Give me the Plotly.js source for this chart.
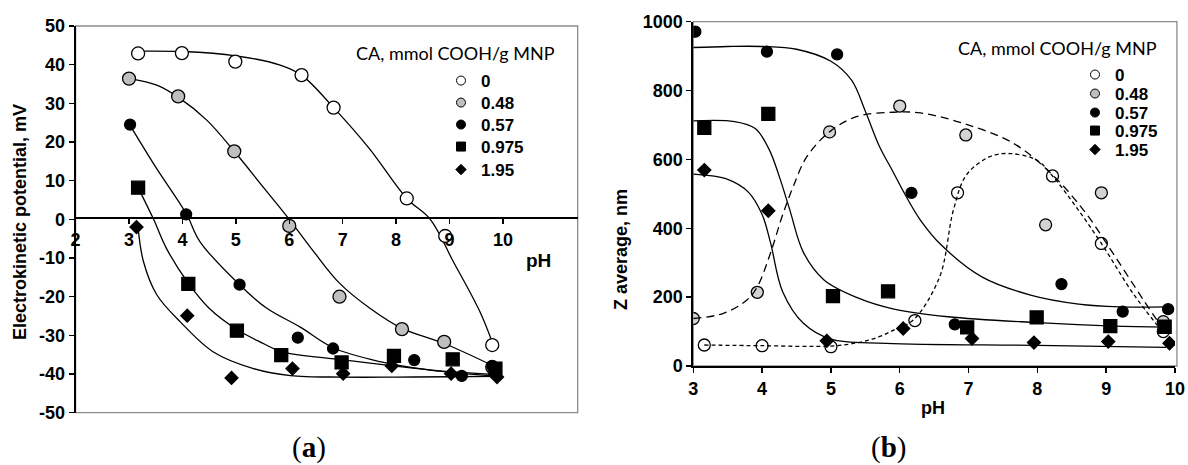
<!DOCTYPE html>
<html>
<head>
<meta charset="utf-8">
<script src="https://cdn.plot.ly/plotly-3.0.1.min.js"></script>
<style>
  html, body { margin: 0; padding: 0; background: #ffffff; }
  #chart { width: 1188px; height: 465px; }
</style>
</head>
<body>
<div id="chart"></div>
<script>
// Citric acid loading, mmol COOH per g of magnetic nanoparticles
const seriesNames = ['0', '0.48', '0.57', '0.975', '1.95'];

// ---------- (a) electrokinetic potential (mV) vs pH ----------
const zetaPH_0    = [3.17, 3.99, 4.99, 6.23, 6.83, 8.20, 8.92, 9.80];
const zeta_0      = [42.9, 43.0, 40.8, 37.3, 28.9, 5.4, -4.3, -32.5];
const zetaPH_048  = [3.00, 3.92, 4.97, 6.00, 6.94, 8.11, 8.90, 9.80];
const zeta_048    = [36.4, 31.8, 17.6, -1.7, -20.0, -28.4, -31.7, -38.2];
const zetaPH_057  = [3.02, 4.07, 5.07, 6.16, 6.82, 8.34, 9.23, 9.80];
const zeta_057    = [24.5, 1.3, -16.9, -30.6, -33.4, -36.4, -40.5, -37.9];
const zetaPH_0975 = [3.17, 4.11, 5.02, 5.85, 6.98, 7.96, 9.06, 9.86];
const zeta_0975   = [8.2, -16.7, -28.8, -35.1, -37.0, -35.3, -36.2, -38.6];
const zetaPH_195  = [3.14, 4.09, 4.92, 6.06, 7.01, 7.92, 9.03, 9.89];
const zeta_195    = [-2.0, -24.9, -41.0, -38.6, -39.9, -37.9, -39.9, -40.8];

// hand-fitted trend lines for (a)
const zetaFitPH_0    = [3.1, 4.0, 5.0, 5.83, 6.23, 6.83, 7.5, 8.2, 8.64, 9.07, 9.57, 9.82];
const zetaFit_0      = [43.5, 43.4, 42.3, 39.9, 37.3, 28.9, 18.3, 5.4, 0, -10.9, -23.9, -32.5];
const zetaFitPH_048  = [3.02, 3.52, 3.92, 4.46, 4.97, 5.52, 6.0, 6.45, 6.94, 7.51, 8.11, 8.9, 9.82];
const zetaFit_048    = [36.4, 34.7, 31.6, 25.6, 17.6, 8.2, 0, -8.2, -16.5, -23.0, -28.2, -32.1, -37.9];
const zetaFitPH_057  = [3.02, 3.5, 4.07, 4.33, 5.07, 5.58, 6.2, 6.82, 7.7, 8.64, 9.82];
const zetaFit_057    = [24.3, 13.5, 1.5, -5.8, -16.9, -23.0, -27.8, -33.2, -36.8, -39.0, -40.5];
const zetaFitPH_0975 = [3.17, 3.46, 3.7, 4.11, 4.5, 5.02, 5.5, 5.85, 6.98, 7.95, 9.01, 9.82];
const zetaFit_0975   = [8.2, 0, -7.5, -16.5, -23.0, -28.5, -32.0, -34.2, -36.3, -37.9, -39.4, -40.1];
const zetaFitPH_195  = [3.17, 3.27, 3.52, 3.96, 4.58, 5.33, 6.02, 7.0, 8.0, 9.0, 9.85];
const zetaFit_195    = [-2.2, -10.9, -19.5, -26.5, -34.3, -38.6, -40.4, -40.8, -40.8, -40.7, -40.6];

// ---------- (b) Z average (nm) vs pH ----------
const sizePH_0    = [3.16, 4.00, 5.00, 6.22, 6.84, 8.22, 8.93, 9.83];
const size_0      = [61, 59, 56, 132, 503, 552, 356, 100];
const sizePH_048  = [3.00, 3.93, 4.98, 6.00, 6.96, 8.12, 8.93, 9.83];
const size_048    = [138, 214, 680, 755, 671, 410, 503, 129];
const sizePH_057  = [3.03, 4.07, 5.09, 6.17, 6.80, 8.35, 9.24, 9.90];
const size_057    = [971, 913, 905, 503, 121, 238, 158, 165];
const sizePH_0975 = [3.16, 4.09, 5.03, 5.83, 6.98, 7.99, 9.06, 9.85];
const size_0975   = [692, 732, 203, 217, 112, 141, 116, 114];
const sizePH_195  = [3.16, 4.09, 4.94, 6.05, 7.05, 7.95, 9.03, 9.92];
const size_195    = [569, 451, 73, 109, 80, 68, 71, 66];

// hand-fitted trend lines for (b)
const sizeFitPH_0    = [3.16, 4.0, 5.0, 5.4, 5.7, 5.95, 6.2, 6.58, 6.78, 6.97, 7.31, 7.6, 7.99, 8.22, 8.57, 8.93, 9.39, 9.78];
const sizeFit_0      = [61, 59, 58, 68, 85, 108, 134, 259, 453, 555, 608, 617, 598, 552, 460, 356, 211, 109];
const sizeFitPH_048  = [3.0, 3.44, 3.78, 3.93, 4.12, 4.3, 4.45, 4.65, 4.98, 5.37, 5.9, 6.3, 6.92, 7.65, 8.22, 8.7, 9.1, 9.54, 9.8];
const sizeFit_048    = [138, 153, 192, 230, 327, 440, 520, 608, 680, 724, 737, 735, 705, 647, 555, 445, 327, 192, 115];
const sizeFitPH_057  = [3.0, 3.5, 4.0, 4.5, 5.0, 5.3, 5.5, 5.7, 5.9, 6.1, 6.3, 6.6, 7.2, 7.9, 8.6, 9.2, 9.87];
const sizeFit_057    = [925, 928, 928, 920, 885, 830, 740, 640, 565, 490, 424, 352, 258, 206, 180, 172, 172];
const sizeFitPH_0975 = [3.0, 3.6, 3.9, 4.1, 4.25, 4.4, 4.6, 4.9, 5.4, 5.9, 6.7, 8.0, 9.1, 9.87];
const sizeFit_0975   = [712, 710, 690, 630, 550, 455, 330, 250, 197, 166, 143, 126, 116, 113];
const sizeFitPH_195  = [3.0, 3.5, 3.8, 4.0, 4.12, 4.3, 4.6, 5.0, 5.8, 8.0, 9.87];
const sizeFit_195    = [557, 542, 505, 440, 360, 215, 124, 78, 66, 60, 54];

// axis tick labels (plain hyphen minus, as in the original figure)
const zetaTicks   = [-50, -40, -30, -20, -10, 0, 10, 20, 30, 40, 50];
const zetaTickTxt = ['-50', '-40', '-30', '-20', '-10', '0', '10', '20', '30', '40', '50'];
const phTicksA    = [2, 3, 4, 5, 6, 7, 8, 9, 10];
const phTicksB    = [3, 4, 5, 6, 7, 8, 9, 10];
const sizeTicks   = [0, 200, 400, 600, 800, 1000];

// ---------- styling ----------
const W = 1188, H = 465;
const px = v => v / W;
const py = v => 1 - v / H;

const markerStyleA = [
  { symbol: 'circle',  size: 13, color: '#ffffff' },
  { symbol: 'circle',  size: 13, color: '#bfbfbf' },
  { symbol: 'circle',  size: 11, color: '#000000' },
  { symbol: 'square',  size: 13, color: '#000000' },
  { symbol: 'diamond', size: 10, color: '#000000' }
];
const markerStyleB = [
  { symbol: 'circle',  size: 12, color: '#ffffff' },
  { symbol: 'circle',  size: 12, color: '#d3d3d3' },
  { symbol: 'circle',  size: 11, color: '#000000' },
  { symbol: 'square',  size: 13, color: '#000000' },
  { symbol: 'diamond', size: 10, color: '#000000' }
];
const legendStyle = [
  { symbol: 'circle',  color: '#ffffff' },
  { symbol: 'circle',  color: '#bfbfbf' },
  { symbol: 'circle',  color: '#000000' },
  { symbol: 'square',  color: '#000000' },
  { symbol: 'diamond', color: '#000000' }
];
const dashB = ['4px,3px', '8px,5px', 'solid', 'solid', 'solid'];

// key rows (pixel centre lines) and left edges of the two keys
const keyRowsA = [81, 103, 125, 147, 170];
const keyRowsB = [75, 94, 113, 131, 150];
const keyLeftA = 441, keyLeftB = 1075;

const pointsA = [[zetaPH_0, zeta_0], [zetaPH_048, zeta_048], [zetaPH_057, zeta_057], [zetaPH_0975, zeta_0975], [zetaPH_195, zeta_195]];
const fitsA = [[zetaFitPH_0, zetaFit_0], [zetaFitPH_048, zetaFit_048], [zetaFitPH_057, zetaFit_057], [zetaFitPH_0975, zetaFit_0975], [zetaFitPH_195, zetaFit_195]];
const pointsB = [[sizePH_0, size_0], [sizePH_048, size_048], [sizePH_057, size_057], [sizePH_0975, size_0975], [sizePH_195, size_195]];
const fitsB = [[sizeFitPH_0, sizeFit_0], [sizeFitPH_048, sizeFit_048], [sizeFitPH_057, sizeFit_057], [sizeFitPH_0975, sizeFit_0975], [sizeFitPH_195, sizeFit_195]];

const traces = [];

// (a) trend lines under the markers
fitsA.forEach(([x, y]) => traces.push({
  x, y, xaxis: 'x', yaxis: 'y', mode: 'lines', showlegend: false, hoverinfo: 'skip',
  line: { color: '#000', width: 1.3, shape: 'spline', smoothing: 1 }
}));
pointsA.forEach(([x, y], i) => traces.push({
  x, y, xaxis: 'x', yaxis: 'y', mode: 'markers', name: seriesNames[i], showlegend: false,
  marker: { symbol: markerStyleA[i].symbol, size: markerStyleA[i].size, color: markerStyleA[i].color,
            line: { color: '#000', width: 1.3 } }
}));

// (b) markers, then trend lines drawn over them
pointsB.forEach(([x, y], i) => traces.push({
  x, y, xaxis: 'x2', yaxis: 'y2', mode: 'markers', name: seriesNames[i], showlegend: false,
  marker: { symbol: markerStyleB[i].symbol, size: markerStyleB[i].size, color: markerStyleB[i].color,
            line: { color: '#000', width: 1.3 } }
}));
fitsB.forEach(([x, y], i) => traces.push({
  x, y, xaxis: 'x2', yaxis: 'y2', mode: 'lines', showlegend: false, hoverinfo: 'skip',
  line: { color: '#000', width: 1.3, shape: 'spline', smoothing: 1, dash: dashB[i] }
}));

const boldFont = (s) => ({ family: 'Arial, Liberation Sans, sans-serif', size: s, weight: 'bold', color: '#000' });
const tickFont = boldFont(18);
const legendTitleFont = { family: 'Lato, Carlito, sans-serif', size: 18, color: '#000' };

// one single-entry legend per key row, so the rows sit exactly where wanted
const legendLayouts = {};
let legendIndex = 1;
[[keyRowsA, keyLeftA, 'x', 'y'], [keyRowsB, keyLeftB, 'x2', 'y2']].forEach(([rows, left, xa, ya]) => {
  seriesNames.forEach((n, i) => {
    const id = legendIndex === 1 ? 'legend' : 'legend' + legendIndex;
    legendLayouts[id] = {
      x: px(left), y: py(rows[i]), xanchor: 'left', yanchor: 'middle',
      bgcolor: 'rgba(0,0,0,0)', borderwidth: 0, itemwidth: 30,
      font: boldFont(17)
    };
    traces.push({
      x: [null], y: [null], xaxis: xa, yaxis: ya,
      mode: 'markers', name: n, legend: id, showlegend: true,
      marker: { symbol: legendStyle[i].symbol, size: i === 4 ? 8 : 9, color: legendStyle[i].color,
                line: { color: '#000', width: 1 } }
    });
    legendIndex++;
  });
});

const layout = Object.assign({
  width: W, height: H,
  margin: { l: 0, r: 0, t: 0, b: 0 },
  paper_bgcolor: '#fff', plot_bgcolor: 'rgba(0,0,0,0)',
  showlegend: true,
  xaxis: {
    domain: [px(75.6), px(577.7)], range: [2, 11.40], anchor: 'free', position: py(218.3),
    tickvals: phTicksA, ticks: 'outside', ticklen: 5, tickwidth: 1.5, tickcolor: '#000',
    showline: true, linecolor: '#000', linewidth: 2, showgrid: false, zeroline: false,
    tickfont: tickFont, fixedrange: true
  },
  yaxis: {
    domain: [py(412.7), py(26)], range: [-50, 50], anchor: 'x',
    tickvals: zetaTicks, ticktext: zetaTickTxt, ticks: 'outside', ticklen: 5, tickwidth: 1.5, tickcolor: '#000',
    showline: true, linecolor: '#000', linewidth: 2, showgrid: false, zeroline: false,
    tickfont: tickFont, fixedrange: true
  },
  xaxis2: {
    domain: [px(693.3), px(1175)], range: [3, 10], anchor: 'y2',
    tickvals: phTicksB, ticks: 'outside', ticklen: 5, tickwidth: 1.5, tickcolor: '#000',
    showline: true, linecolor: '#000', linewidth: 2, showgrid: false, zeroline: false,
    tickfont: tickFont, fixedrange: true
  },
  yaxis2: {
    domain: [py(366), py(21.7)], range: [0, 1000], anchor: 'x2',
    tickvals: sizeTicks, ticks: 'outside', ticklen: 5, tickwidth: 1.5, tickcolor: '#000',
    showline: true, linecolor: '#000', linewidth: 2, showgrid: false, zeroline: false,
    tickfont: tickFont, fixedrange: true
  },
  shapes: [
    { type: 'rect', xref: 'x domain', yref: 'y domain', x0: 0, x1: 1, y0: 0, y1: 1,
      line: { color: '#8c8c8c', width: 1.3 }, layer: 'below' },
    { type: 'rect', xref: 'x2 domain', yref: 'y2 domain', x0: 0, x1: 1.004, y0: 0, y1: 1,
      line: { color: '#8c8c8c', width: 1.3 }, layer: 'below' }
  ],
  annotations: [
    { text: 'Electrokinetic potential, mV', xref: 'paper', yref: 'paper', x: px(20), y: py(222),
      textangle: -90, showarrow: false, font: boldFont(18), xanchor: 'center', yanchor: 'middle' },
    { text: 'pH', xref: 'paper', yref: 'paper', x: px(538), y: py(260),
      showarrow: false, font: boldFont(19), xanchor: 'center', yanchor: 'middle' },
    { text: 'CA, mmol COOH/g MNP', xref: 'paper', yref: 'paper', x: px(456), y: py(53),
      showarrow: false, font: legendTitleFont, xanchor: 'center', yanchor: 'middle' },
    { text: 'Z average, nm', xref: 'paper', yref: 'paper', x: px(621), y: py(250),
      textangle: -90, showarrow: false, font: boldFont(18), xanchor: 'center', yanchor: 'middle' },
    { text: 'pH', xref: 'paper', yref: 'paper', x: px(933), y: py(408),
      showarrow: false, font: boldFont(18), xanchor: 'center', yanchor: 'middle' },
    { text: 'CA, mmol COOH/g MNP', xref: 'paper', yref: 'paper', x: px(1057), y: py(48),
      showarrow: false, font: legendTitleFont, xanchor: 'center', yanchor: 'middle' },
    { text: '(<b>a</b>)', xref: 'paper', yref: 'paper', x: px(309), y: py(447),
      showarrow: false, font: { family: 'Times New Roman, Liberation Serif, serif', size: 29, color: '#000' },
      xanchor: 'center', yanchor: 'middle' },
    { text: '(<b>b</b>)', xref: 'paper', yref: 'paper', x: px(888), y: py(447),
      showarrow: false, font: { family: 'Times New Roman, Liberation Serif, serif', size: 29, color: '#000' },
      xanchor: 'center', yanchor: 'middle' }
  ]
}, legendLayouts);

Plotly.newPlot('chart', traces, layout, { displayModeBar: false, staticPlot: true });
</script>
</body>
</html>
